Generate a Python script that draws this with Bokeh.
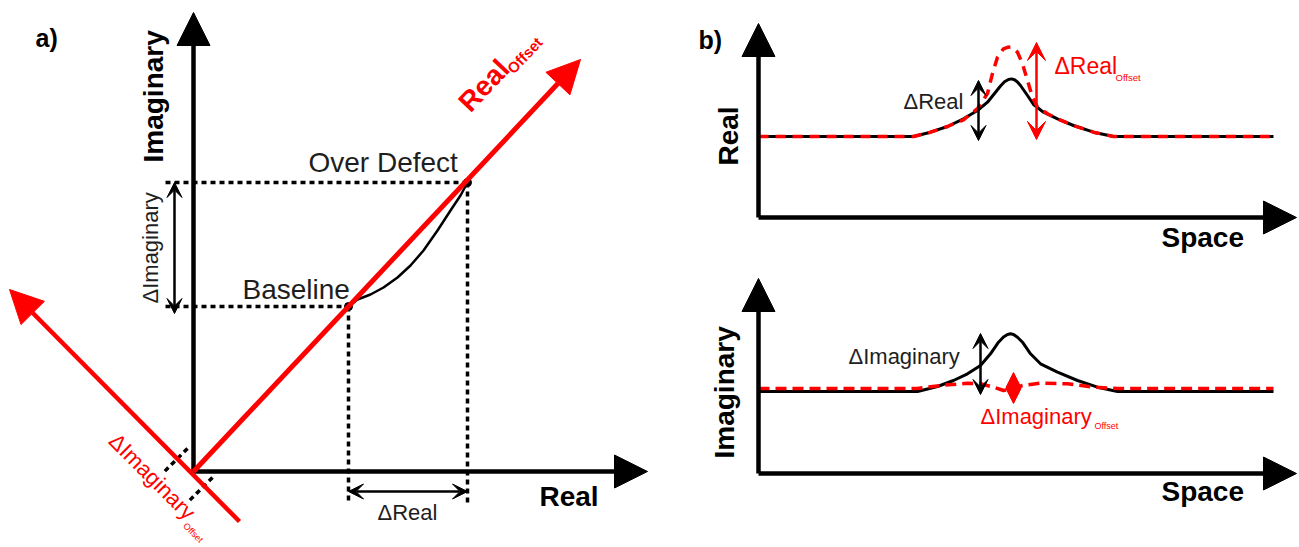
import math
from bokeh.plotting import figure
from bokeh.models import Range1d, Arrow, NormalHead, VeeHead, Label
from bokeh.embed import file_html
from bokeh.resources import INLINE

W, H = 1299, 547
RED = "#ff0000"
INK = "#000000"
TXT = "#1e1e1e"
FONT = "Liberation Sans"

# ---------------- panel a: complex impedance plane ----------------
origin_a = (193, 471)
imag_axis_tip = (193, 12)
real_axis_tip = (647, 471)
real_offset_tip = (580, 59)
imag_offset_tip = (9, 289)
imag_offset_tail = (239, 521)

reading_names = ["Baseline", "Over Defect"]
reading_x = [348, 467]
reading_y = [306, 182]

# path of the signal from baseline to the defect reading
traj_x = [348, 357, 370, 383, 397, 410, 423, 437, 450, 460, 467]
traj_y = [306, 299, 294, 287, 277, 265, 250, 230, 210, 195, 182]

guide_left = 165
guide_bottom = 502

# projection ticks of the rotated axis
proj_x0 = [187, 212]
proj_y0 = [448, 477]
proj_x1 = [162, 187]
proj_y1 = [473, 502]

# ---------------- panel b: signals along the scan ----------------
b_axis_x = 758
b_axis_end = 1296
top_axis_y, top_tip_y = 217, 23
bot_axis_y, bot_tip_y = 473, 278

real_x = [758, 880, 913, 930, 947, 963, 977, 987, 995, 1000, 1004, 1008, 1011, 1014, 1017,
          1020, 1027, 1033, 1043, 1057, 1073, 1093, 1113, 1273]
real_y = [136, 136, 136, 131.7, 126, 118.3, 110, 101.7, 91.7, 85.5, 81.3, 79, 78.4, 79.3,
          81.5, 85, 95, 104, 111.7, 118.3, 125, 131.7, 136, 136]

real_off_x = [758, 880, 913, 930, 947, 963, 977, 987, 992, 997, 1003, 1007, 1010, 1013, 1017,
              1022, 1027, 1032, 1037, 1047, 1057, 1073, 1093, 1113, 1273]
real_off_y = [136, 136, 136, 131.7, 126, 119.3, 108, 93, 73, 56.7, 48.3, 46.8, 46.5, 48,
              51.7, 63.3, 80, 96.7, 106.7, 113.3, 118.3, 125, 131.7, 136, 136]

imag_x = [758, 917, 937, 953, 967, 980, 990, 998, 1003, 1007, 1010, 1013, 1017, 1022, 1030,
          1040, 1057, 1077, 1097, 1117, 1273]
imag_y = [391, 391, 386, 380, 373.3, 365, 353.3, 341.7, 336.5, 334, 333.3, 334, 336.8,
          341.7, 353.3, 363.3, 371.7, 380, 386.7, 391, 391]

imag_off_x = [758, 917, 940, 967, 980, 993, 1003, 1012, 1022, 1040, 1067, 1093, 1117, 1273]
imag_off_y = [388, 388, 385, 382.7, 383.3, 386.7, 390, 388.3, 385, 382.7, 383.3, 386.7, 388, 388]

p = figure(width=W, height=H, x_range=Range1d(0, W), y_range=Range1d(H, 0),
           x_axis_type=None, y_axis_type=None, toolbar_location=None,
           output_backend="svg", min_border=0)
p.grid.visible = False
p.outline_line_color = None
p.background_fill_color = "white"
p.border_fill_color = "white"


def arrow(x0, y0, x1, y1, color, width, head=None, tail=None):
    p.add_layout(Arrow(x_start=x0, y_start=y0, x_end=x1, y_end=y1,
                       line_color=color, line_width=width, end=head, start=tail))


def big_head(color):
    return NormalHead(size=33, fill_color=color, line_color=color, line_width=1)


def small_vee(color, size=15):
    return VeeHead(size=size, fill_color=color, line_color=color, line_width=1)


def label(x, y, text, size, color=TXT, bold=False, angle=0):
    # (x, y) is the start of the text baseline; nudge along the glyph's up direction
    # so the rendered baseline lands there
    a = math.radians(angle)
    lift = 0.34 * size
    p.add_layout(Label(x=x - lift * math.sin(a), y=y - lift * math.cos(a), text=text,
                       text_font=FONT, text_font_size=f"{size}px", text_color=color,
                       text_font_style="bold" if bold else "normal",
                       angle=angle, angle_units="deg", text_align="left",
                       text_baseline="alphabetic"))


# dotted guides from the two readings to the axes
p.segment(x0=[guide_left] * 2, y0=reading_y, x1=reading_x, y1=reading_y,
          line_color=INK, line_width=3.5, line_dash="5 4")
p.segment(x0=reading_x, y0=reading_y, x1=reading_x, y1=[guide_bottom] * 2,
          line_color=INK, line_width=3.5, line_dash="5 4")
p.segment(x0=proj_x0, y0=proj_y0, x1=proj_x1, y1=proj_y1,
          line_color=INK, line_width=3.5, line_dash="5 4")

# axes of panel a
arrow(origin_a[0], origin_a[1], imag_axis_tip[0], imag_axis_tip[1], INK, 4.5, big_head(INK))
arrow(origin_a[0], origin_a[1], real_axis_tip[0], real_axis_tip[1], INK, 4.5, big_head(INK))

# rotated (offset) axes
arrow(imag_offset_tail[0], imag_offset_tail[1], imag_offset_tip[0], imag_offset_tip[1],
      RED, 4.5, big_head(RED))
p.line(traj_x, traj_y, line_color=INK, line_width=2.5)
arrow(origin_a[0], origin_a[1], real_offset_tip[0], real_offset_tip[1], RED, 5, big_head(RED))
p.scatter(reading_x, reading_y, size=8, color=INK)

# delta arrows of panel a
arrow(174, reading_y[1], 174, reading_y[0] + 7, INK, 2.5, small_vee(INK), small_vee(INK))
arrow(reading_x[0], 491, reading_x[1], 491, INK, 2.5, small_vee(INK), small_vee(INK))

label(35, 46, "a)", 25, INK, True)
label(163, 162, "Imaginary", 28, INK, True, 90)
label(539, 506, "Real", 28, INK, True)
label(308, 172, reading_names[1], 28)
label(242, 299, reading_names[0], 28)
label(157, 303, "ΔImaginary", 22, angle=90)
label(377, 519, "ΔReal", 22)
label(470, 113, "Real", 28, RED, True, 46.6)
label(513, 74, "Offset", 15, RED, True, 46.6)
label(107, 442, "ΔImaginary", 22, RED, False, -45)
label(182, 526, "Offset", 9, RED, False, -45)

# ---------------- panel b ----------------
arrow(b_axis_x, top_axis_y, b_axis_x, top_tip_y, INK, 4.5, big_head(INK))
arrow(b_axis_x, top_axis_y, b_axis_end, top_axis_y, INK, 4.5, big_head(INK))
arrow(b_axis_x, bot_axis_y, b_axis_x, bot_tip_y, INK, 4.5, big_head(INK))
arrow(b_axis_x, bot_axis_y, b_axis_end, bot_axis_y, INK, 4.5, big_head(INK))

p.line(real_x, real_y, line_color=INK, line_width=3)
p.line(real_off_x, real_off_y, line_color=RED, line_width=3.5, line_dash="10 7")
p.line(imag_x, imag_y, line_color=INK, line_width=3)
p.line(imag_off_x, imag_off_y, line_color=RED, line_width=3.5, line_dash="11 6")

arrow(978, 80, 978, 140, INK, 2.5, small_vee(INK), small_vee(INK))
arrow(1036, 42, 1036, 139, RED, 2.5, small_vee(RED, 18), small_vee(RED, 18))
arrow(980, 333, 980, 394, INK, 2.5, small_vee(INK), small_vee(INK))
arrow(1013, 372, 1013, 403, RED, 2.5,
      NormalHead(size=15, fill_color=RED, line_color=RED),
      NormalHead(size=15, fill_color=RED, line_color=RED))

label(698, 48, "b)", 25, INK, True)
label(738, 165, "Real", 28, INK, True, 90)
label(734, 458, "Imaginary", 28, INK, True, 90)
label(1161, 247, "Space", 28, INK, True)
label(1161, 501, "Space", 28, INK, True)
label(903, 108, "ΔReal", 22)
label(1054, 73, "ΔReal", 23, RED)
label(1115, 80, "Offset", 9.5, RED)
label(848, 363, "ΔImaginary", 22)
label(980, 423, "ΔImaginary", 22, RED)
label(1094, 429, "Offset", 9, RED)

open("out.html", "w").write(file_html(p, INLINE))
